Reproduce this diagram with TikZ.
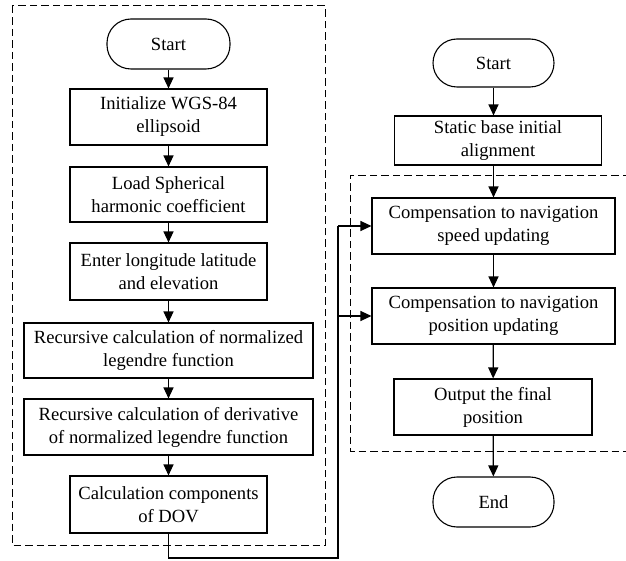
\documentclass[tikz,border=0pt]{standalone}
\usepackage{fontspec}
\setmainfont{Liberation Serif}
\usetikzlibrary{arrows.meta}
\begin{document}
\begin{tikzpicture}[x=1pt,y=-1pt,
  box/.style={draw,line width=1.1pt,align=center,inner sep=0pt,font=\fontsize{18.6}{23}\selectfont},
  term/.style={box,rounded corners=24pt},
  arr/.style={line width=1.2pt,-{Triangle[length=11pt,width=10pt]}},
  conn/.style={line width=1.2pt},
  grp/.style={line width=1pt,dash pattern=on 7.5pt off 4pt}]
\useasboundingbox (0,0) rectangle (626,561);
% left group
\draw[grp] (12,6) rectangle (325,545);
\node[term,minimum width=123pt,minimum height=50pt] (s1) at (168.5,44) {Start};
\node[box,minimum width=197pt,minimum height=56pt] (b1) at (168.5,117) {Initialize WGS-84\\ellipsoid};
\node[box,minimum width=197pt,minimum height=55pt] (b2) at (168.5,194.5) {Load Spherical\\harmonic coefficient};
\node[box,minimum width=197pt,minimum height=57pt] (b3) at (168.5,271.5) {Enter longitude latitude\\and elevation};
\node[box,minimum width=289pt,minimum height=55pt] (b4) at (168.5,350.5) {Recursive calculation of normalized\\legendre function};
\node[box,minimum width=289pt,minimum height=56pt] (b5) at (168.5,427) {Recursive calculation of derivative\\of normalized legendre function};
\node[box,minimum width=197pt,minimum height=57pt] (b6) at (168.5,504.5) {Calculation components\\of DOV};
\draw[arr] (s1) -- (b1);
\draw[arr] (b1) -- (b2);
\draw[arr] (b2) -- (b3);
\draw[arr] (b3) -- (b4);
\draw[arr] (b4) -- (b5);
\draw[arr] (b5) -- (b6);
% right group
\draw[grp] (630,176) -- (350,176) -- (350,451) -- (630,451);
\node[term,minimum width=121pt,minimum height=48pt] (s2) at (493.5,63) {Start};
\node[box,minimum width=207pt,minimum height=49pt] (r1) at (498,140.5) {Static base initial\\alignment};
\node[box,minimum width=243pt,minimum height=56pt] (r2) at (493.5,226) {Compensation to navigation\\speed updating};
\node[box,minimum width=243pt,minimum height=56pt] (r3) at (493.5,316) {Compensation to navigation\\position updating};
\node[box,minimum width=198pt,minimum height=56pt] (r4) at (493,407) {Output the final\\position};
\node[term,minimum width=121pt,minimum height=50pt] (e) at (493.5,502) {End};
\draw[arr] (s2.south) -- (s2.south |- r1.north);
\draw[arr] (s2.south |- r1.south) -- (r2);
\draw[arr] (r2) -- (r3);
\draw[arr] (r3) -- (r4);
\draw[arr] (r4) -- (e);
% link
\coordinate (c1) at (168.5,558);
\coordinate (c2) at (338,558);
\coordinate (c3) at (338,226);
\coordinate (c4) at (338,316);
\draw[conn] (b6.south) -- (c1) -- (c2) -- (c3);
\draw[arr] (c3) -- (r2.west);
\draw[arr] (c4) -- (r3.west);
\end{tikzpicture}
\end{document}
